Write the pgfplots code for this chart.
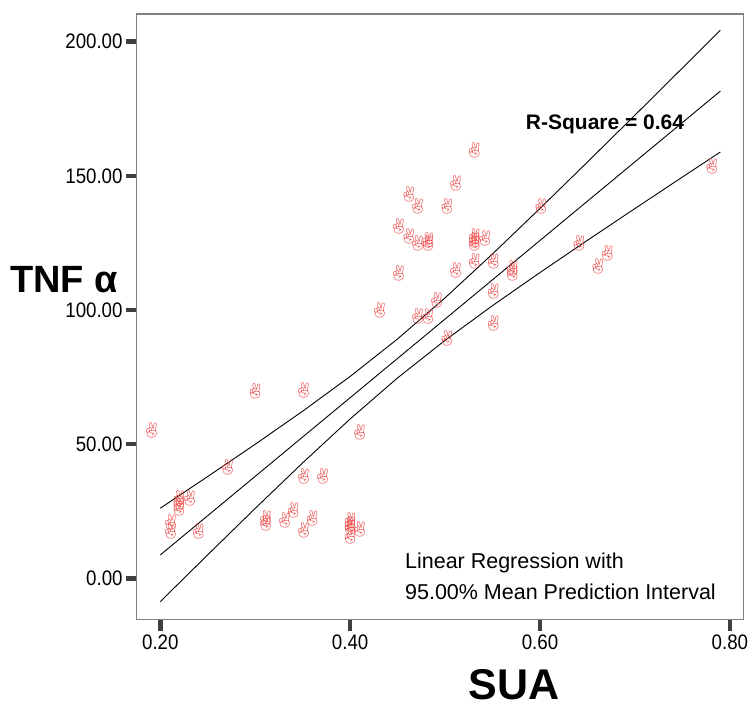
\documentclass[border=0pt]{standalone}
\usepackage{pgfplots}
\pgfplotsset{compat=1.18}
\usepackage{fontspec}
\setmainfont{Liberation Sans}
\newfontfamily\emo{Noto Emoji}
\definecolor{pt}{RGB}{238,72,72}
\definecolor{tk}{RGB}{64,64,64}
\definecolor{fr}{RGB}{128,128,128}

\begin{document}
\begin{tikzpicture}
\begin{axis}[
  scale only axis, width=607bp, height=606bp,
  xmin=0.1751, xmax=0.8144, ymin=-15.5, ymax=210.3,
  axis line style={draw=fr, line width=1.2bp},
  xtick={0.2,0.4,0.6,0.8}, ytick={0,50,...,200},
  xtick pos=left, ytick pos=left,
  tick align=outside, major tick length=11bp,
  every tick/.style={tk, line width=4.5bp},
  /pgf/number format/.cd, fixed, fixed zerofill, precision=2, assume math mode=true,
  /pgfplots/.cd,
  tick label style={font=\fontsize{21bp}{21bp}\selectfont, xscale=0.89},
  xlabel={SUA}, ylabel={TNF α},
  xlabel style={font=\bfseries\fontsize{43bp}{43bp}\selectfont,
    at={(axis description cs:0.6216,-0.107)}, anchor=center},
  ylabel style={font=\bfseries\fontsize{38bp}{38bp}\selectfont, rotate=-90, inner sep=0pt,
    at={(axis description cs:-0.0308,0.561)}, anchor=east},
  clip=false,
]
% 95% mean prediction band and fit line
\addplot[black, line width=0.9bp] coordinates {
(0.20,26.10) (0.25,37.94) (0.30,49.95) (0.35,62.28) (0.40,75.22) (0.45,89.21) (0.50,104.52)
(0.55,120.88) (0.60,137.85) (0.65,155.14) (0.70,172.60) (0.75,190.17) (0.79,204.27)};
\addplot[black, line width=0.9bp] coordinates {
(0.20,8.70) (0.25,23.35) (0.30,38.00) (0.35,52.65) (0.40,67.30) (0.45,81.95) (0.50,96.60)
(0.55,111.25) (0.60,125.90) (0.65,140.55) (0.70,155.20) (0.75,169.85) (0.79,181.57)};
\addplot[black, line width=0.9bp] coordinates {
(0.20,-8.70) (0.25,8.76) (0.30,26.05) (0.35,43.02) (0.40,59.38) (0.45,74.69) (0.50,88.68)
(0.55,101.62) (0.60,113.95) (0.65,125.96) (0.70,137.80) (0.75,149.53) (0.79,158.87)};
% observations
\addplot[only marks, mark=text,
  text mark={\fontsize{15bp}{15bp}\emo\textcolor{pt}{✌}}] table {
x y
0.191 55.3
0.211 21.0
0.211 17.4
0.2195 29.8
0.2195 27.9
0.2195 26.1
0.231 29.8
0.240 17.4
0.271 41.2
0.300 69.6
0.351 70.2
0.410 54.3
0.351 37.9
0.371 37.9
0.311 22.4
0.311 20.4
0.331 21.7
0.340 25.2
0.360 22.4
0.351 18.0
0.400 21.5
0.400 20.0
0.400 19.0
0.400 15.5
0.410 18.3
0.531 159.6
0.511 147.0
0.462 143.2
0.471 138.5
0.502 138.5
0.451 131.3
0.462 127.3
0.471 124.9
0.482 124.9
0.482 125.8
0.531 126.1
0.531 124.9
0.531 127.5
0.542 126.7
0.601 138.5
0.451 113.7
0.511 114.9
0.531 118.0
0.551 118.0
0.571 115.5
0.571 113.7
0.641 124.9
0.671 121.1
0.661 116.4
0.431 100.0
0.471 97.5
0.482 97.5
0.491 103.7
0.551 106.8
0.551 95.0
0.502 89.5
0.781 153.4
};
\node[anchor=west, inner sep=0pt, font=\bfseries\fontsize{21bp}{21bp}\selectfont] at (axis cs:0.585,169.0) {R-Square = 0.64};
\node[anchor=west, inner sep=0pt, font=\fontsize{21.5bp}{21.5bp}\selectfont] at (axis cs:0.4577,5.7) {Linear Regression with};
\node[anchor=west, inner sep=0pt, font=\fontsize{21.5bp}{21.5bp}\selectfont] at (axis cs:0.4577,-5.1) {95.00\% Mean Prediction Interval};
\end{axis}
\path ([shift={(-136.7bp,-98bp)}]current axis.south west) rectangle ([shift={(7.3bp,14bp)}]current axis.north east);
\end{tikzpicture}
\end{document}
